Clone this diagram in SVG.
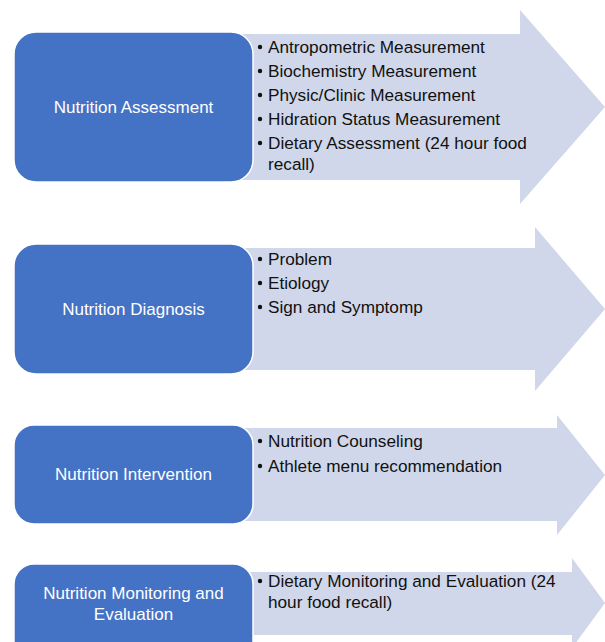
<svg xmlns="http://www.w3.org/2000/svg" width="605" height="642" viewBox="0 0 605 642">
<style>
.box{fill:#4472C4;stroke:#FFFFFF;stroke-width:1.5}
.arrow{fill:#D0D7EA;stroke:none}
.lbl{font-family:"Liberation Sans",Arial,sans-serif;font-size:17px;fill:#FFFFFF;text-anchor:middle}
.item{font-family:"Liberation Sans",Arial,sans-serif;font-size:17.2px;fill:#111111}
.dot{fill:#111111}
</style>
<rect width="605" height="642" fill="#FFFFFF"/>
<g id="connectors">
<path class="arrow" d="M240,34 H520 V10 L605,107 L520,204 V180 H240 Z"/>
<path class="arrow" d="M240,248 H535 V227 L605,309 L535,391 V370 H240 Z"/>
<path class="arrow" d="M240,428 H557 V415 L605,475 L557,535 V521 H240 Z"/>
<path class="arrow" d="M240,572 H572 V558 L605,603 L572,648 V635 H240 Z"/>
</g>
<g id="node-assessment">
<rect class="box" x="14" y="32" width="239" height="150" rx="22"/>
<text class="lbl" x="133.5" y="113">Nutrition Assessment</text>
</g>
<g id="items-assessment">
<circle class="dot" cx="260" cy="47" r="2.2"/>
<text class="item" x="268" y="53">Antropometric Measurement</text>
<circle class="dot" cx="260" cy="71" r="2.2"/>
<text class="item" x="268" y="77">Biochemistry Measurement</text>
<circle class="dot" cx="260" cy="95" r="2.2"/>
<text class="item" x="268" y="101">Physic/Clinic Measurement</text>
<circle class="dot" cx="260" cy="119" r="2.2"/>
<text class="item" x="268" y="125">Hidration Status Measurement</text>
<circle class="dot" cx="260" cy="143" r="2.2"/>
<text class="item" x="268" y="149">Dietary Assessment (24 hour food</text>
<text class="item" x="268" y="170">recall)</text>
</g>
<g id="node-diagnosis">
<rect class="box" x="14" y="244" width="239" height="130" rx="22"/>
<text class="lbl" x="133.5" y="315">Nutrition Diagnosis</text>
</g>
<g id="items-diagnosis">
<circle class="dot" cx="260" cy="259" r="2.2"/>
<text class="item" x="268" y="265">Problem</text>
<circle class="dot" cx="260" cy="283" r="2.2"/>
<text class="item" x="268" y="289">Etiology</text>
<circle class="dot" cx="260" cy="307" r="2.2"/>
<text class="item" x="268" y="313">Sign and Symptomp</text>
</g>
<g id="node-intervention">
<rect class="box" x="14" y="425" width="239" height="99" rx="20"/>
<text class="lbl" x="133.5" y="480">Nutrition Intervention</text>
</g>
<g id="items-intervention">
<circle class="dot" cx="260" cy="441" r="2.2"/>
<text class="item" x="268" y="447">Nutrition Counseling</text>
<circle class="dot" cx="260" cy="466" r="2.2"/>
<text class="item" x="268" y="472">Athlete menu recommendation</text>
</g>
<g id="node-monitoring">
<rect class="box" x="14" y="564" width="239" height="99" rx="20"/>
<text class="lbl" x="133.5" y="599">Nutrition Monitoring and</text>
<text class="lbl" x="133.5" y="620">Evaluation</text>
</g>
<g id="items-monitoring">
<circle class="dot" cx="260" cy="581" r="2.2"/>
<text class="item" x="268" y="587">Dietary Monitoring and Evaluation (24</text>
<text class="item" x="268" y="608">hour food recall)</text>
</g>
</svg>
